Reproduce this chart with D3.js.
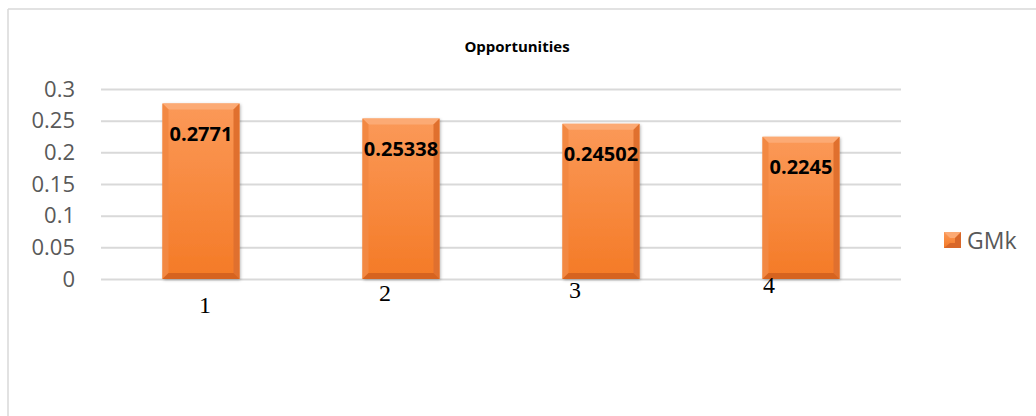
<!DOCTYPE html>
<html>
<head>
<meta charset="utf-8">
<script src="https://cdn.jsdelivr.net/npm/d3@7"></script>
<style>
  html, body { margin: 0; padding: 0; background: #fff; }
  svg { display: block; }
</style>
</head>
<body>
<svg id="chart" width="1036" height="416"></svg>
<script>
// ---- data ----
const categories = ["1", "2", "3", "4"];
const gmkValues = [0.2771, 0.25338, 0.24502, 0.2245];
const valueLabels = ["0.2771", "0.25338", "0.24502", "0.2245"];
const yTicks = [0, 0.05, 0.1, 0.15, 0.2, 0.25, 0.3];
const yTickLabels = ["0", "0.05", "0.1", "0.15", "0.2", "0.25", "0.3"];
const seriesName = "GMk";
const chartTitle = "Opportunities";

// ---- layout ----
const W = 1036, H = 416;
const plot = { left: 101, right: 901, top: 89, bottom: 279 };
// the category labels in the source sit off-centre; small nudges reproduce that
const catNudge = [[4, 26], [-16, 14], [-26, 11], [-32, 6]];

const svg = d3.select("#chart");

const x = d3.scaleBand().domain(categories).range([plot.left, plot.right])
  .paddingInner(0.615).paddingOuter(0.3075);
const y = d3.scaleLinear().domain([0, 0.3]).range([plot.bottom, plot.top]);

// defs: gradients
const defs = svg.append("defs");
const g1 = defs.append("linearGradient").attr("id", "barGrad").attr("x1", 0).attr("y1", 0).attr("x2", 0).attr("y2", 1);
g1.append("stop").attr("offset", "0%").attr("stop-color", "#fb9958");
g1.append("stop").attr("offset", "100%").attr("stop-color", "#f47a26");
const filt = defs.append("filter").attr("id", "shadow").attr("x", "-20%").attr("y", "-20%").attr("width", "140%").attr("height", "140%");
filt.append("feDropShadow").attr("dx", 1).attr("dy", 1).attr("stdDeviation", 1.5).attr("flood-color", "#000").attr("flood-opacity", 0.3);

// chart frame (top and left edges visible)
svg.append("line").attr("x1", 8).attr("x2", W).attr("y1", 9).attr("y2", 9)
  .attr("stroke", "#d9d9d9").attr("stroke-width", 1.5);
svg.append("line").attr("x1", 8).attr("x2", 8).attr("y1", 9).attr("y2", H)
  .attr("stroke", "#d9d9d9").attr("stroke-width", 1.5);

// title
svg.append("text").attr("x", 517).attr("y", 46).attr("text-anchor", "middle")
  .attr("dominant-baseline", "central")
  .attr("font-family", "'Open Sans', sans-serif").attr("font-weight", 700)
  .attr("font-size", 15).attr("fill", "#000").text(chartTitle);

// y axis with gridlines
const yAxis = d3.axisLeft(y).tickValues(yTicks)
  .tickFormat((d, i) => yTickLabels[i])
  .tickSize(-(plot.right - plot.left)).tickPadding(26);
const ya = svg.append("g").attr("transform", `translate(${plot.left},0)`).call(yAxis);
ya.select(".domain").remove();
ya.selectAll(".tick line").attr("stroke", "#d9d9d9").attr("stroke-width", 2);
ya.selectAll(".tick text").attr("font-family", "'Open Sans', sans-serif")
  .attr("font-size", 22).attr("fill", "#595959");

// bars
const bars = svg.append("g").selectAll("g.bar").data(gmkValues).join("g").attr("class", "bar");
bars.each(function (d, i) {
  const g = d3.select(this);
  const bx = x(categories[i]), bw = x.bandwidth();
  const by = y(d), bh = y(0) - y(d);
  const b = 6; // bevel size
  g.append("rect").attr("x", bx).attr("y", by).attr("width", bw).attr("height", bh)
    .attr("fill", "url(#barGrad)").attr("filter", "url(#shadow)");
  g.append("path").attr("d", `M${bx},${by} L${bx + bw},${by} L${bx + bw - b},${by + b} L${bx + b},${by + b} Z`)
    .attr("fill", "#fcaa74");
  g.append("path").attr("d", `M${bx},${by} L${bx + b},${by + b} L${bx + b},${by + bh - b} L${bx},${by + bh} Z`)
    .attr("fill", "#f28842");
  g.append("path").attr("d", `M${bx + bw},${by} L${bx + bw - b},${by + b} L${bx + bw - b},${by + bh - b} L${bx + bw},${by + bh} Z`)
    .attr("fill", "#e0702e");
  g.append("path").attr("d", `M${bx},${by + bh} L${bx + b},${by + bh - b} L${bx + bw - b},${by + bh - b} L${bx + bw},${by + bh} Z`)
    .attr("fill", "#d6631f");
  g.append("text").attr("x", bx + bw / 2).attr("y", by + 30)
    .attr("text-anchor", "middle").attr("dominant-baseline", "central")
    .attr("font-family", "'Open Sans', sans-serif").attr("font-weight", 700)
    .attr("font-size", 20).attr("fill", "#000").text(valueLabels[i]);
});

// x axis (category labels)
const xAxis = d3.axisBottom(x).tickSize(0).tickPadding(0);
const xa = svg.append("g").attr("transform", `translate(0,${plot.bottom})`).call(xAxis);
xa.select(".domain").remove();
xa.selectAll(".tick text")
  .attr("font-family", "'Liberation Serif', 'Times New Roman', serif")
  .attr("font-size", 24).attr("fill", "#000")
  .attr("dy", null).attr("dominant-baseline", "central")
  .attr("transform", (d, i) => `translate(${catNudge[i][0]},${catNudge[i][1]})`);

// legend
const lg = svg.append("g");
lg.append("rect").attr("x", 944).attr("y", 232).attr("width", 17).attr("height", 16)
  .attr("fill", "url(#barGrad)");
lg.append("path").attr("d", "M944,232 L961,232 L955,238 L950,238 Z").attr("fill", "#fcaa74");
lg.append("path").attr("d", "M961,232 L961,248 L944,248 L950,243 L955,243 L955,238 Z").attr("fill", "#d8672a");
lg.append("text").attr("x", 967).attr("y", 240).attr("dominant-baseline", "central")
  .attr("font-family", "'Open Sans', sans-serif").attr("font-size", 23)
  .attr("fill", "#595959").text(seriesName);
</script>
</body>
</html>
